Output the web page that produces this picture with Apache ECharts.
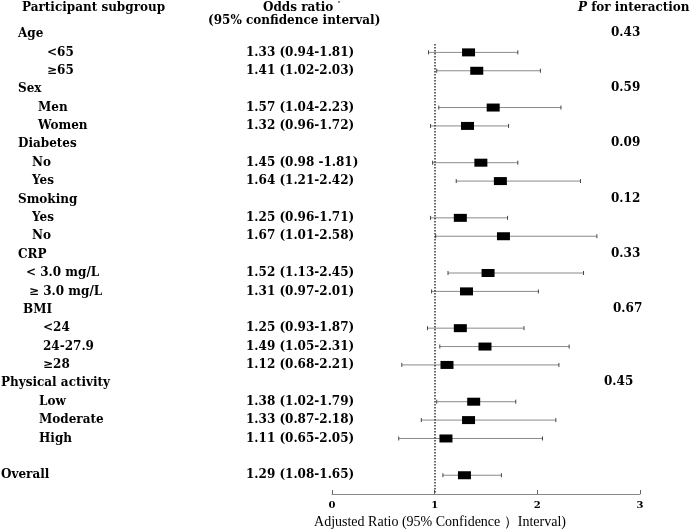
<!DOCTYPE html>
<html><head><meta charset="utf-8">
<script src="https://cdn.jsdelivr.net/npm/echarts@6/dist/echarts.min.js"></script>
<style>html,body{margin:0;padding:0;background:#fff}#c{width:697px;height:532px}</style>
</head><body><div id="c"></div>
<script>
// ---- data ----
const subgroups = ['Age','<65','\u226565','Sex','Men','Women','Diabetes','No','Yes','Smoking','Yes','No','CRP','< 3.0 mg/L','\u2265 3.0 mg/L','BMI','<24','24-27.9','\u226528','Physical activity','Low','Moderate','High','','Overall'];
const oddsRatio = [null,1.33,1.41,null,1.57,1.32,null,1.45,1.64,null,1.25,1.67,null,1.52,1.31,null,1.25,1.49,1.12,null,1.38,1.33,1.11,null,1.29];
const ciLower   = [null,0.94,1.02,null,1.04,0.96,null,0.98,1.21,null,0.96,1.01,null,1.13,0.97,null,0.93,1.05,0.68,null,1.02,0.87,0.65,null,1.08];
const ciUpper   = [null,1.81,2.03,null,2.23,1.72,null,1.81,2.42,null,1.71,2.58,null,2.45,2.01,null,1.87,2.31,2.21,null,1.79,2.18,2.05,null,1.65];
const orText = ['','1.33 (0.94-1.81)','1.41 (1.02-2.03)','','1.57 (1.04-2.23)','1.32 (0.96-1.72)','','1.45 (0.98 -1.81)','1.64 (1.21-2.42)','','1.25 (0.96-1.71)','1.67 (1.01-2.58)','','1.52 (1.13-2.45)','1.31 (0.97-2.01)','','1.25 (0.93-1.87)','1.49 (1.05-2.31)','1.12 (0.68-2.21)','','1.38 (1.02-1.79)','1.33 (0.87-2.18)','1.11 (0.65-2.05)','','1.29 (1.08-1.65)'];
const pInteraction = ['0.43','','','0.59','','','0.09','','','0.12','','','0.33','','','0.67','','','','0.45','','','','',''];
const xTicks = [0,1,2,3];

// ---- layout (not data) ----
const labelIndent = [18,47,47,18,38,38,18,32,32,18,32,32,18,26,29,23,43,43,43,1,39,39,39,0,1];
const pOffset = [0,0,0,0,0,0,0,0,0,0,0,0,0,0,0,2,0,0,0,-7,0,0,0,0,0];
const TXT = 'DejaVu Serif';
const F = 'bold 12px "DejaVu Serif"';

const rows = subgroups.map((s,i)=>i);
const chart = echarts.init(document.getElementById('c'));
chart.setOption({
  animation:false,
  backgroundColor:'#fff',
  grid:{left:332,right:57,top:44,bottom:38,outerBoundsMode:'none',containLabel:false},
  xAxis:{type:'value',min:xTicks[0],max:xTicks[xTicks.length-1],interval:1,
    axisLine:{lineStyle:{color:'#888',width:1}},
    axisTick:{inside:true,length:4,lineStyle:{color:'#666'}},
    axisLabel:{color:'#000',fontFamily:TXT,fontSize:10,fontWeight:'bold',margin:6,
      formatter:v=>xTicks.indexOf(v)>=0?String(v):''},
    splitLine:{show:false},
    name:'Adjusted Ratio (95% Confidence \uFF09Interval)',nameLocation:'middle',nameGap:20,
    nameTextStyle:{color:'#000',fontFamily:'Liberation Serif',fontSize:14,padding:[0,92,0,0]}
  },
  yAxis:{type:'value',inverse:true,min:0.544,max:25.02,show:false},
  graphic:[
    {type:'text',left:22,top:2,style:{text:'Participant subgroup',font:F,fill:'#000'}},
    {type:'text',left:263,top:1,style:{text:'Odds ratio {s|"}',rich:{s:{fontSize:7,verticalAlign:'top',fontFamily:TXT,padding:[0,0,6,0]}},font:F,fill:'#000'}},
    {type:'text',left:208,top:15,style:{text:'(95% confidence interval)',font:F,fill:'#000'}},
    {type:'text',left:578,top:2,style:{text:'{i|P} for interaction',rich:{i:{fontStyle:'italic',fontFamily:TXT,fontWeight:'bold',fontSize:12}},font:F,fill:'#000'}}
  ],
  series:[
    {type:'custom',clip:false,silent:true,
      data:rows.map(i=>[0,i]),
      encode:{x:0,y:1},
      renderItem:(params,api)=>{
        const i=api.value(1);
        const y=api.coord([0,i])[1];
        const ch=[];
        if(subgroups[i]) ch.push({type:'text',style:{text:subgroups[i],x:labelIndent[i],y:y,font:F,fill:'#000',textVerticalAlign:'middle'}});
        if(orText[i]) ch.push({type:'text',style:{text:orText[i],x:246,y:y,font:F,fill:'#000',textVerticalAlign:'middle'}});
        if(pInteraction[i]) ch.push({type:'text',style:{text:pInteraction[i],x:611+pOffset[i],y:y-1,font:F,fill:'#000',textVerticalAlign:'middle'}});
        return {type:'group',children:ch};
      }
    },
    {type:'custom',clip:false,silent:true,
      data:rows.filter(i=>oddsRatio[i]!=null).map(i=>[ciLower[i],ciUpper[i],i]),
      encode:{x:[0,1],y:2},
      renderItem:(params,api)=>{
        const r=api.value(2);
        const p1=api.coord([api.value(0),r]);
        const p2=api.coord([api.value(1),r]);
        const st={stroke:'#8a8a8a',lineWidth:1};
        const cap={stroke:'#444',lineWidth:1};
        return {type:'group',children:[
          {type:'line',shape:{x1:p1[0],y1:p1[1],x2:p2[0],y2:p2[1]},style:st},
          {type:'line',shape:{x1:p1[0],y1:p1[1]-2,x2:p1[0],y2:p1[1]+2},style:cap},
          {type:'line',shape:{x1:p2[0],y1:p2[1]-2,x2:p2[0],y2:p2[1]+2},style:cap}
        ]};
      }
    },
    {type:'scatter',symbol:'rect',symbolSize:[13,8],silent:true,
      itemStyle:{color:'#000',opacity:1},
      data:rows.filter(i=>oddsRatio[i]!=null).map(i=>[oddsRatio[i],i]),
      markLine:{silent:true,symbol:'none',label:{show:false},
        lineStyle:{color:'#333',type:'dotted',width:1.5},
        data:[{xAxis:1}]}
    }
  ]
});
</script></body></html>
